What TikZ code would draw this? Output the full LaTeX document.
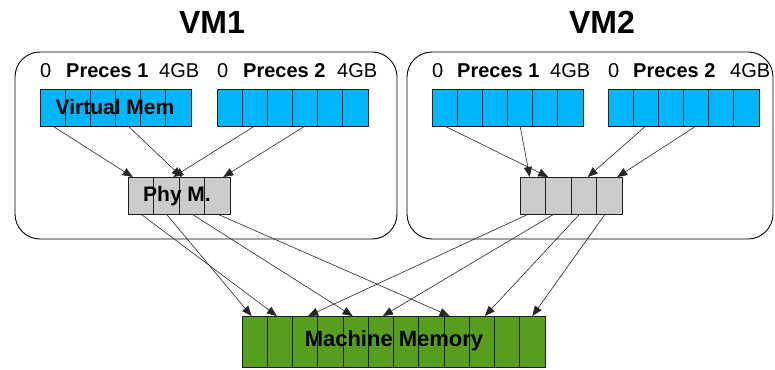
\documentclass[tikz,border=0pt]{standalone}
\usepackage{fontspec}
\setmainfont{Liberation Sans}
\usetikzlibrary{arrows.meta}
\definecolor{vblue}{RGB}{0,182,250}
\definecolor{pgray}{RGB}{204,204,204}
\definecolor{mgreen}{RGB}{88,158,30}
\definecolor{celledge}{RGB}{30,30,30}
\begin{document}
\begin{tikzpicture}[x=1pt,y=-1pt,
  vmbox/.style={draw=black, line width=0.9pt, rounded corners=25pt},
  cellbase/.style={draw=celledge, line width=1pt, inner sep=0pt, outer sep=0pt, anchor=north west},
  cellv/.style={cellbase, fill=vblue, minimum width=25.17pt, minimum height=37pt},
  cellp/.style={cellbase, fill=pgray, minimum width=25.5pt, minimum height=37pt},
  cellm/.style={cellbase, fill=mgreen, minimum width=25.25pt, minimum height=51pt},
  link/.style={draw=black!85, line width=0.6pt, -{Triangle[length=10pt,width=8pt]}},
  title/.style={font=\fontsize{32}{36}\selectfont\bfseries, inner sep=0pt},
  lbl/.style={font=\fontsize{20}{24}\selectfont\bfseries, inner sep=0pt, anchor=base west},
  num/.style={font=\fontsize{20}{24}\selectfont, inner sep=0pt, anchor=base west},
  inlbl/.style={font=\fontsize{21}{24}\selectfont\bfseries, inner sep=0pt}
]
\useasboundingbox (0,0) rectangle (775,369);

% VM containers
\draw[vmbox] (15,52) rectangle (397,239);
\draw[vmbox] (407,52) rectangle (773,239);
\node[title] (t1) at (212,22) {VM1};
\node[title] (t2) at (602,22) {VM2};

% range labels
\node[num] (n1a) at (40,77) {0};
\node[lbl] (l1a) at (66,77) {Preces 1};
\node[num] (g1a) at (159,77) {4GB};
\node[num] (n1b) at (217,77) {0};
\node[lbl] (l1b) at (243,77) {Preces 2};
\node[num] (g1b) at (337,77) {4GB};
\node[num] (n2a) at (432,77) {0};
\node[lbl] (l2a) at (457,77) {Preces 1};
\node[num] (g2a) at (550,77) {4GB};
\node[num] (n2b) at (608,77) {0};
\node[lbl] (l2b) at (633,77) {Preces 2};
\node[num] (g2b) at (730,77) {4GB};

% virtual memory rows
\foreach \i in {1,...,6} {
  \node[cellv] (v1a\i) at ({40+(\i-1)*25.17},89) {};
  \node[cellv] (v1b\i) at ({217+(\i-1)*25.17},89) {};
  \node[cellv] (v2a\i) at ({432+(\i-1)*25.17},89) {};
  \node[cellv] (v2b\i) at ({608+(\i-1)*25.17},89) {};
}
% physical memory
\foreach \i in {1,...,4} {
  \node[cellp] (p1c\i) at ({128+(\i-1)*25.5},177) {};
  \node[cellp] (p2c\i) at ({520+(\i-1)*25.5},177) {};
}
% machine memory
\foreach \i in {1,...,12} {
  \node[cellm] (m\i) at ({242+(\i-1)*25.25},316) {};
}

\node[inlbl] (vmtext) at (115,107) {Virtual Mem};
\node[inlbl] (phytext) at (177,196) {Phy M.};
\node[font=\fontsize{22}{26}\selectfont\bfseries, inner sep=0pt] (mmtext) at (394,341) {Machine Memory};

% VM1 virtual -> physical
\draw[link] (v1a1.south) -- ([xshift=-8pt]p1c1.north);
\draw[link] (v1a4.south) -- ([xshift=-10pt]p1c3.north);
\draw[link] (v1b2.south) -- ([xshift=7pt]p1c2.north);
\draw[link] (v1b4.south) -- ([xshift=6pt]p1c4.north);
% VM2 virtual -> physical
\draw[link] (v2a1.south) -- ([xshift=-10pt]p2c2.north);
\draw[link] (v2a4.south) -- ([xshift=-3pt]p2c1.north);
\draw[link] (v2b2.south) -- ([xshift=4pt]p2c3.north);
\draw[link] (v2b4.south) -- ([xshift=8pt]p2c4.north);
% physical -> machine
\draw[link] (p1c1.south) -- ([xshift=-3pt]m2.north);
\draw[link] (p1c2.south) -- ([xshift=-3pt]m1.north);
\draw[link] (p1c3.south) -- ([xshift=-3pt]m5.north);
\draw[link] (p1c4.south) -- ([xshift=-7pt]m9.north);
\draw[link] ([xshift=-4pt]p2c1.south) -- ([xshift=3pt]m3.north);
\draw[link] ([xshift=-4pt]p2c2.south) -- ([xshift=2pt]m6.north);
\draw[link] ([xshift=-4pt]p2c3.south) -- ([xshift=3pt]m10.north);
\draw[link] ([xshift=-4pt]p2c4.south) -- (m12.north);
\end{tikzpicture}
\end{document}
